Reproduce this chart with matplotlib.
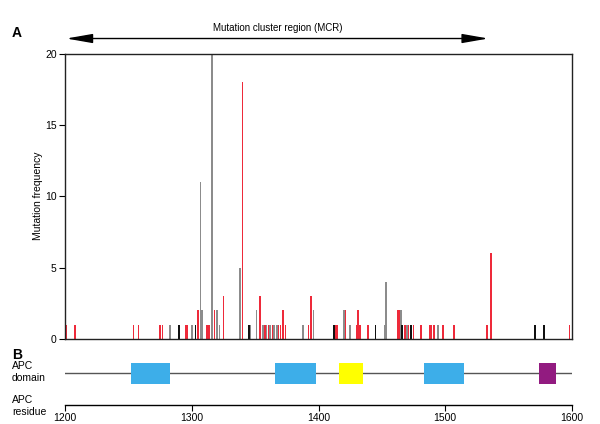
import matplotlib.pyplot as plt
from matplotlib.patches import Rectangle

plt.rcParams['font.family'] = ['Liberation Sans', 'DejaVu Sans']

# mutation counts per residue, split by colour group
red_pos = [1201, 1208, 1254, 1258, 1275, 1277, 1295, 1296, 1305, 1312, 1313, 1314,
           1318, 1325, 1340, 1354, 1358, 1361, 1364, 1368, 1370, 1372, 1374, 1392,
           1394, 1414, 1415, 1421, 1430, 1431, 1433, 1439, 1463, 1464, 1468, 1471,
           1475, 1481, 1488, 1489, 1491, 1498, 1507, 1533, 1536, 1598]
red_cnt = [1, 1, 1, 1, 1, 1, 1, 1, 2, 1, 1, 1,
           2, 3, 18, 3, 1, 1, 1, 1, 1, 2, 1, 1,
           3, 1, 1, 2, 1, 2, 1, 1, 2, 2, 1, 1,
           1, 1, 1, 1, 1, 1, 1, 1, 6, 1]

grey_pos = [1283, 1300, 1307, 1308, 1316, 1320, 1322, 1338, 1346, 1351, 1356, 1359,
            1362, 1365, 1367, 1388, 1396, 1420, 1425, 1452, 1453, 1465, 1470, 1494]
grey_cnt = [1, 1, 11, 2, 20, 2, 1, 5, 1, 2, 1, 1,
            1, 1, 1, 1, 2, 2, 1, 1, 4, 2, 1, 1]

black_pos = [1290, 1303, 1345, 1412, 1445, 1466, 1473, 1571, 1578]
black_cnt = [1, 1, 1, 1, 1, 1, 1, 1, 1]

# APC domains (start, end, colour)
dom_start = [1252, 1366, 1416, 1483, 1574]
dom_end = [1283, 1398, 1435, 1515, 1587]
dom_color = ['#3daee9', '#3daee9', '#ffff00', '#3daee9', '#921b80']

mcr_start, mcr_end = 1201, 1534

W, H = 600, 424
fig = plt.figure(figsize=(6, 4.24), dpi=100)

def fx(px):
    return px / W

def fy(py):
    return 1 - py / H

# panel A
ax = fig.add_axes([fx(65), fy(339), fx(572) - fx(65), fy(53.5) - fy(339)])
bw = 1.35
ax.bar(red_pos, red_cnt, width=bw, color='#ee2a3a', linewidth=0)
ax.bar(grey_pos, grey_cnt, width=bw, color='#8c8c8c', linewidth=0)
ax.bar(black_pos, black_cnt, width=bw, color='#111111', linewidth=0)
ax.set_xlim(1200, 1600)
ax.set_ylim(0, 20)
ax.set_yticks([0, 5, 10, 15, 20])
ax.set_xticks([])
ax.tick_params(axis='y', labelsize=7.5, length=4, width=0.8, pad=2)
for s in ax.spines.values():
    s.set_linewidth(1.0)
    s.set_color('#222222')

fig.text(fx(38), fy(196), 'Mutation frequency', rotation=90, ha='center', va='center', fontsize=7.5)

# MCR arrow
ax.annotate('', xy=(mcr_start, 21.05), xytext=(mcr_end, 21.05), xycoords='data',
            annotation_clip=False,
            arrowprops=dict(arrowstyle='<|-|>,head_length=1.6,head_width=0.28',
                            color='black', lw=1.0, shrinkA=0, shrinkB=0))
ax.text((mcr_start + mcr_end) / 2, 21.8, 'Mutation cluster region (MCR)', ha='center',
        va='center', fontsize=7, clip_on=False)

fig.text(fx(17), fy(33), 'A', fontsize=10, fontweight='bold', ha='center', va='center')
fig.text(fx(17), fy(355), 'B', fontsize=10, fontweight='bold', ha='center', va='center')

# panel B
ax2 = fig.add_axes([fx(65), fy(405), fx(572) - fx(65), fy(355) - fy(405)])
ax2.set_xlim(1200, 1600)
ax2.set_ylim(0, 1)
ax2.plot([1200, 1600], [0.64, 0.64], color='#555555', lw=1.0)
for s, e, c in zip(dom_start, dom_end, dom_color):
    ax2.add_patch(Rectangle((s, 0.42), e - s, 0.42, facecolor=c, edgecolor='none', zorder=3))
for k in ['top', 'left', 'right']:
    ax2.spines[k].set_visible(False)
ax2.spines['bottom'].set_linewidth(1.0)
ax2.set_yticks([])
ax2.set_xticks([1200, 1300, 1400, 1500, 1600])
ax2.tick_params(axis='x', labelsize=7.5, length=4, width=0.8, pad=2)

fig.text(fx(12), fy(372), 'APC\ndomain', ha='left', va='center', fontsize=7.5, linespacing=1.3)
fig.text(fx(12), fy(406), 'APC\nresidue', ha='left', va='center', fontsize=7.5, linespacing=1.3)

fig.savefig('out.png', dpi=100)
